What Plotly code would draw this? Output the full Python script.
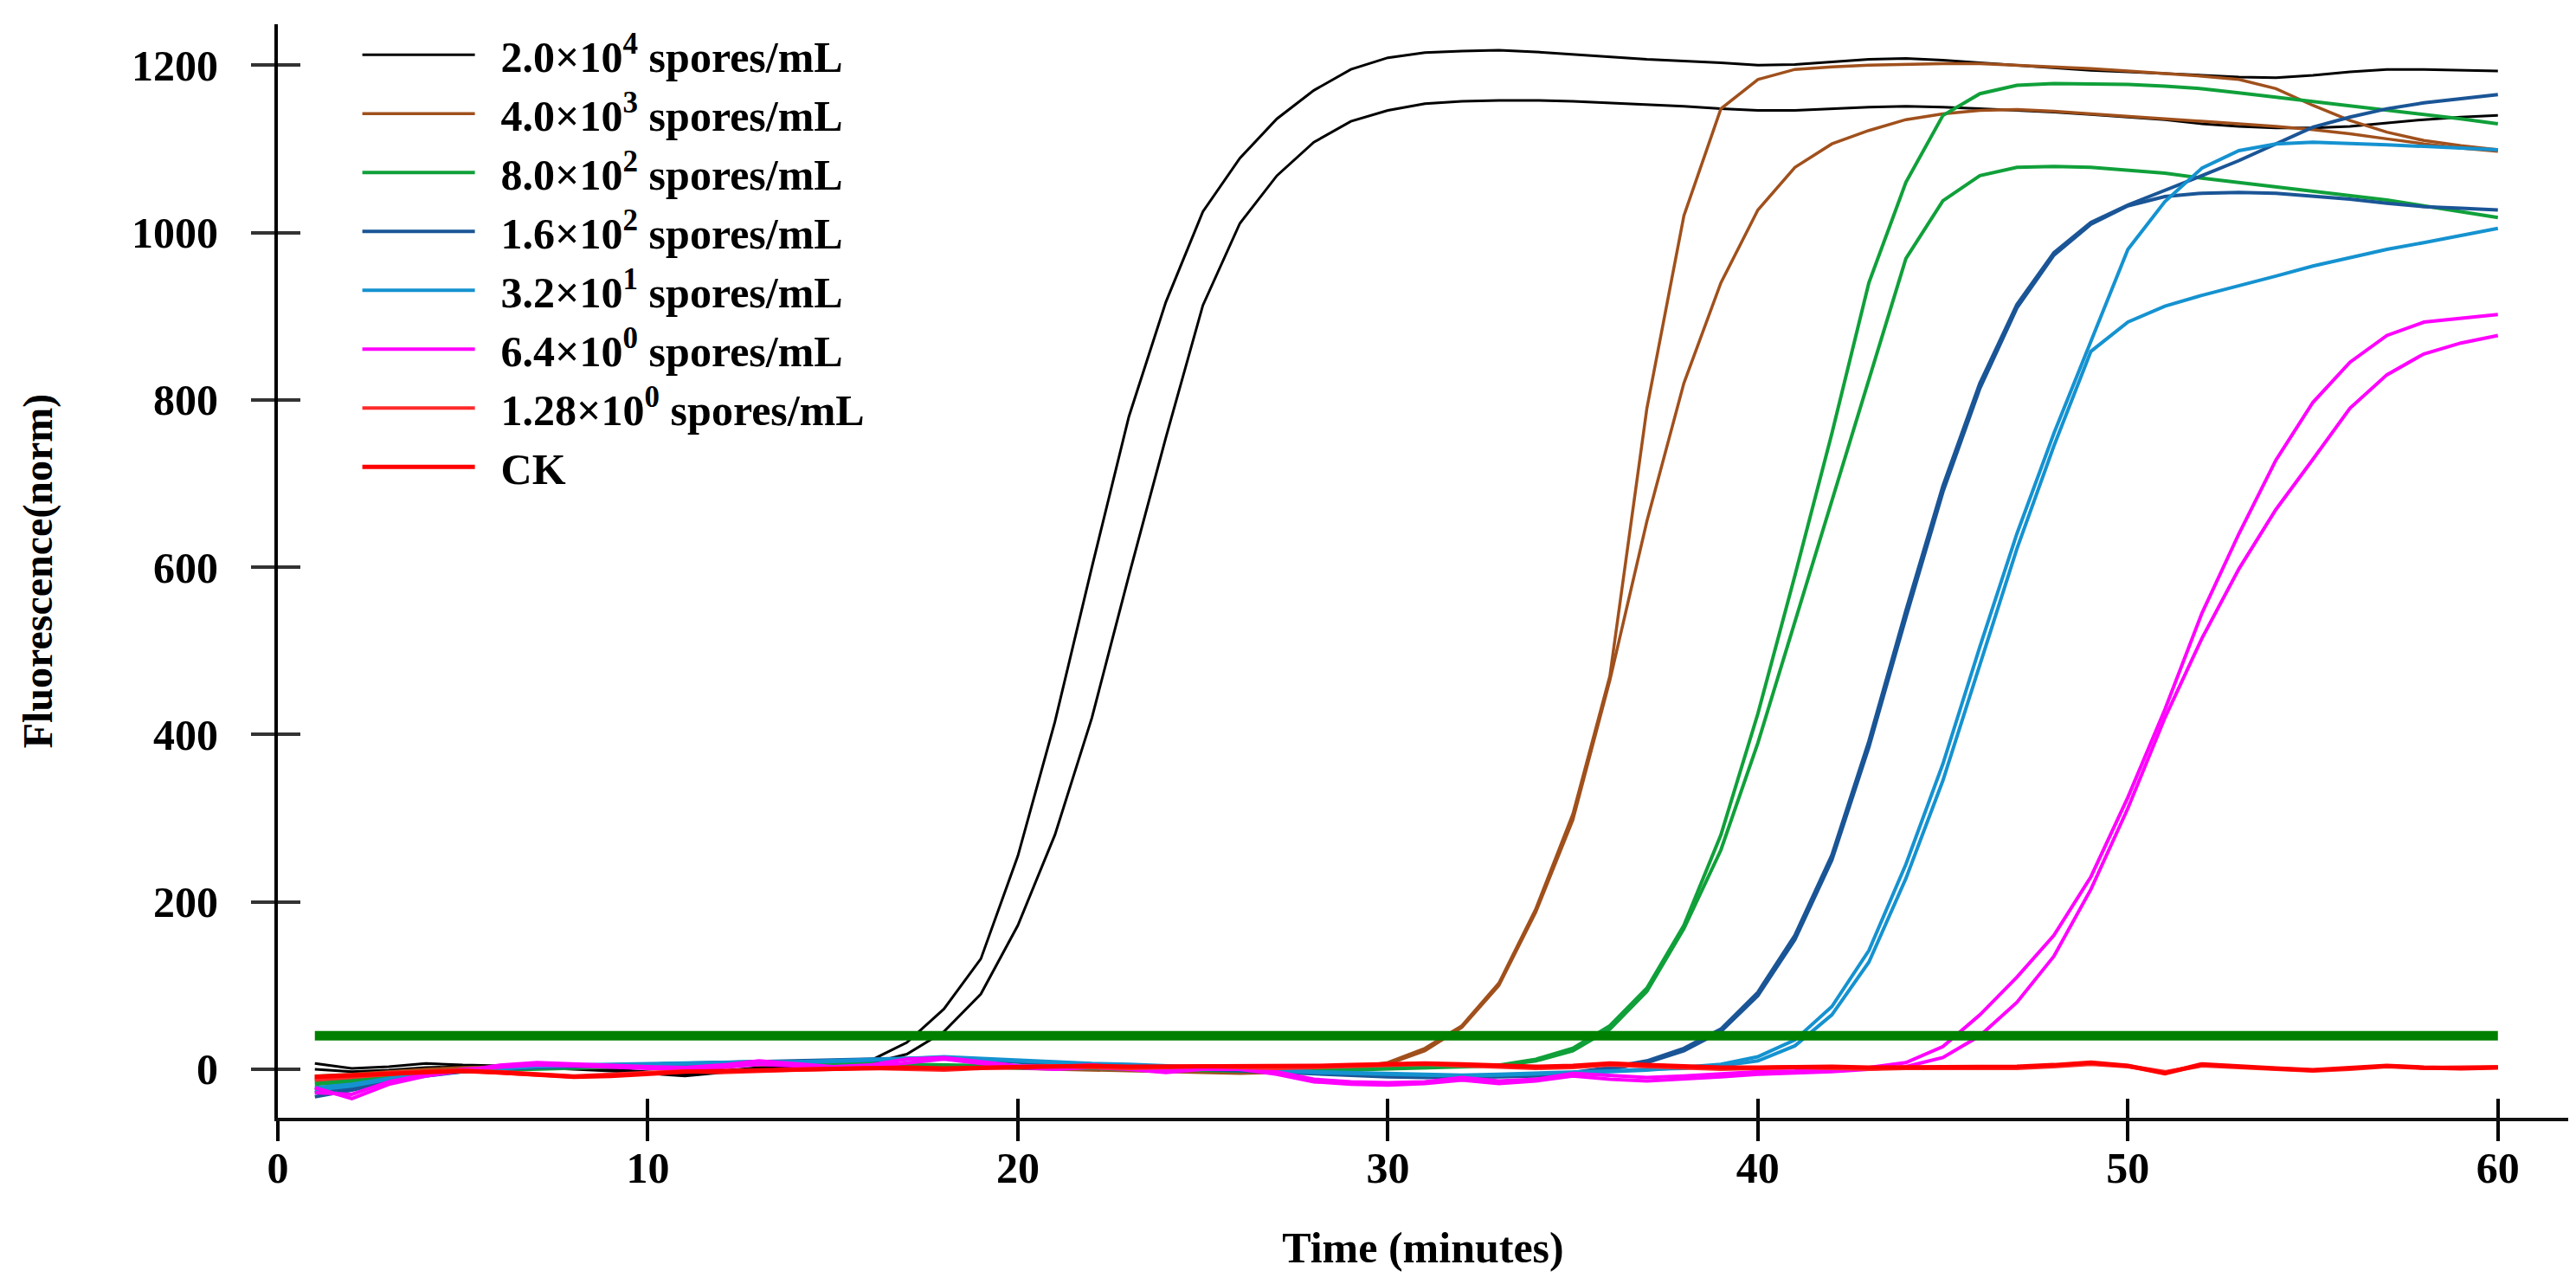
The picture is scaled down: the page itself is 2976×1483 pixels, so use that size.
import plotly.graph_objects as go

# time in minutes, one reading per minute
time = list(range(1, 61))

conc_2e4_a = [7, 1, 3, 7, 5, 4, 3, 2, 0, -3,
              -6, -2, 2, 4, 6, 10, 32, 72, 132, 255,
              415, 600, 780, 917, 1025, 1089, 1136, 1170, 1195, 1209,
              1215, 1217, 1218, 1216, 1213, 1210, 1207, 1205, 1203, 1200,
              1201, 1204, 1207, 1208, 1206, 1203, 1200, 1197, 1194, 1192,
              1190, 1188, 1186, 1185, 1188, 1192, 1195, 1195, 1194, 1193]
conc_2e4_b = [0, -3, -1, 2, 3, 3, 2, 0, -2, -5,
              -8, -4, 0, 3, 5, 7, 18, 45, 90, 172,
              280, 420, 590, 755, 913, 1011, 1068, 1108, 1133, 1146,
              1154, 1157, 1158, 1158, 1157, 1155, 1153, 1151, 1148, 1146,
              1146, 1148, 1150, 1151, 1150, 1148, 1146, 1144, 1141, 1138,
              1135, 1130, 1127, 1125, 1125, 1127, 1131, 1135, 1138, 1140]

conc_4e3_a = [-8, -6, -3, 0, 2, 3, 3, 4, 4, 5,
              4, 5, 6, 6, 7, 6, 5, 4, 3, 2,
              2, 1, 0, -2, -3, -4, -3, -1, 2, 8,
              25, 52, 103, 192, 305, 470, 790, 1020, 1148, 1183,
              1195, 1198, 1200, 1201, 1202, 1202, 1200, 1198, 1196, 1193,
              1190, 1187, 1183, 1172, 1152, 1134, 1120, 1110, 1104, 1099]
conc_4e3_b = [-12, -9, -5, -2, 0, 2, 2, 3, 3, 4,
              3, 4, 5, 5, 6, 5, 4, 3, 2, 1,
              0, -1, -2, -3, -4, -5, -4, -2, 1, 6,
              22, 50, 100, 188, 298, 465, 655, 820, 940, 1027,
              1078, 1106, 1122, 1135, 1142, 1146, 1147, 1145, 1142, 1139,
              1136, 1133, 1130, 1127, 1123, 1118, 1112, 1106, 1101, 1097]

conc_8e2_a = [-15, -12, -8, -4, -1, 1, 2, 3, 5, 6,
              7, 8, 9, 8, 8, 7, 6, 5, 4, 4,
              3, 3, 2, 1, 0, -1, -1, 0, 1, 2,
              3, 3, 5, 12, 25, 52, 97, 172, 280, 425,
              590, 760, 940, 1060, 1140, 1166, 1176, 1178, 1178, 1177,
              1175, 1172, 1167, 1162, 1157, 1152, 1147, 1141, 1136, 1130]
conc_8e2_b = [-18, -15, -10, -6, -3, -1, 0, 1, 3, 4,
              5, 6, 7, 6, 6, 5, 4, 3, 2, 2,
              1, 1, 0, -1, -2, -3, -3, -2, -1, 0,
              1, 2, 4, 10, 22, 48, 93, 168, 262, 390,
              535, 680, 825, 969, 1038, 1068, 1078, 1079, 1078, 1075,
              1071, 1065, 1060, 1055, 1050, 1045, 1039, 1032, 1025, 1018]

conc_1_6e2_a = [-33, -25, -15, -8, -3, 0, 2, 3, 4, 5,
                6, 7, 8, 9, 10, 11, 12, 13, 11, 8,
                6, 5, 4, 2, 0, -2, -4, -6, -8, -9,
                -10, -10, -9, -8, -5, 0, 8, 22, 45, 88,
                155, 250, 385, 540, 690, 814, 910, 973, 1010, 1032,
                1043, 1047, 1048, 1047, 1044, 1040, 1035, 1031, 1029, 1027]
conc_1_6e2_b = [-28, -22, -13, -7, -2, 1, 3, 4, 5, 6,
                7, 8, 9, 10, 11, 12, 13, 14, 12, 9,
                7, 6, 5, 3, 1, -1, -3, -5, -7, -8,
                -9, -9, -8, -7, -4, 2, 10, 25, 48, 92,
                160, 256, 392, 548, 697, 820, 914, 976, 1012, 1033,
                1050, 1068, 1086, 1106, 1126, 1138, 1148, 1155, 1160, 1165]

conc_3_2e1_a = [-25, -20, -12, -6, -2, 1, 3, 4, 5, 6,
                6, 7, 8, 8, 9, 10, 12, 14, 12, 9,
                7, 6, 5, 3, 1, 0, -2, -4, -5, -6,
                -7, -8, -7, -6, -5, -3, -1, 2, 6, 15,
                35, 75, 142, 245, 365, 505, 640, 760, 870, 980,
                1037, 1077, 1098, 1106, 1108, 1107, 1105, 1103, 1101, 1099]
conc_3_2e1_b = [-22, -18, -11, -5, -1, 2, 4, 5, 6, 7,
                7, 8, 9, 9, 10, 11, 13, 15, 13, 10,
                8, 7, 6, 4, 2, 1, -1, -3, -4, -5,
                -6, -7, -6, -5, -4, -2, 0, 1, 4, 10,
                28, 65, 128, 228, 345, 485, 622, 745, 858, 893,
                912, 925, 936, 948, 960, 970, 980, 988, 996, 1005]

conc_6_4e0_a = [-22, -35, -18, -8, -2, 5, 8, 6, 4, 3,
                2, 5, 10, 6, 3, 5, 12, 14, 9, 4,
                3, 5, 2, -2, 2, 3, -3, -12, -15, -16,
                -15, -10, -14, -12, -5, -8, -10, -8, -5, -3,
                -2, 0, 2, 8, 27, 65, 110, 160, 230, 325,
                430, 545, 640, 728, 797, 845, 877, 893, 898, 902]
conc_6_4e0_b = [-28, -30, -15, -6, 0, 3, 5, 4, 2, 1,
                0, 2, 6, 4, 2, 3, 8, 12, 7, 2,
                0, 2, 0, -4, 0, 0, -6, -15, -18, -19,
                -17, -13, -17, -14, -8, -12, -14, -12, -9, -6,
                -5, -3, 0, 3, 14, 40, 80, 135, 215, 312,
                420, 515, 598, 669, 729, 790, 830, 855, 868, 877]

conc_1_28e0_a = [-10, -8, -4, -2, -1, -3, -6, -8, -6, -4,
                 -2, -3, -1, 0, 1, 2, 1, 0, 2, 3,
                 4, 3, 2, 3, 4, 3, 2, 3, 4, 5,
                 7, 5, 3, 2, 3, 6, 4, 2, 1, 2,
                 3, 2, 1, 2, 2, 1, 2, 4, 7, 4,
                 -3, 5, 3, 0, -1, 1, 4, 2, 2, 3]
conc_1_28e0_b = [-13, -10, -6, -3, -2, -4, -7, -9, -7, -5,
                 -3, -4, -2, -1, 0, 1, 0, -1, 1, 2,
                 3, 2, 1, 2, 3, 2, 1, 2, 3, 4,
                 6, 4, 2, 1, 2, 5, 3, 1, 0, 1,
                 2, 1, 0, 1, 1, 0, 1, 3, 6, 3,
                 -4, 4, 2, -1, -2, 0, 3, 1, 1, 2]

ck = [-9, -7, -5, -3, -2, -4, -7, -9, -8, -5,
      -3, -2, -1, 0, 1, 1, 2, 1, 2, 3,
      3, 4, 3, 3, 4, 4, 3, 4, 5, 6,
      7, 6, 4, 3, 4, 7, 5, 3, 2, 2,
      3, 3, 2, 2, 2, 2, 3, 5, 8, 4,
      -5, 6, 3, 1, -1, 1, 4, 2, 1, 2]

threshold_x = [1, 60]
threshold_y = [40, 40]

x_ticks = [0, 10, 20, 30, 40, 50, 60]
y_ticks = [0, 200, 400, 600, 800, 1000, 1200]

series = [
    ("2.0×10<sup>4</sup> spores/mL", "#000000", 3, [conc_2e4_a, conc_2e4_b]),
    ("4.0×10<sup>3</sup> spores/mL", "#A0501C", 3.5, [conc_4e3_a, conc_4e3_b]),
    ("8.0×10<sup>2</sup> spores/mL", "#10A03A", 4, [conc_8e2_a, conc_8e2_b]),
    ("1.6×10<sup>2</sup> spores/mL", "#1A5596", 4, [conc_1_6e2_a, conc_1_6e2_b]),
    ("3.2×10<sup>1</sup> spores/mL", "#1592D0", 4, [conc_3_2e1_a, conc_3_2e1_b]),
    ("6.4×10<sup>0</sup> spores/mL", "#FF00FF", 4, [conc_6_4e0_a, conc_6_4e0_b]),
    ("1.28×10<sup>0</sup> spores/mL", "#FF2A2A", 4, [conc_1_28e0_a, conc_1_28e0_b]),
    ("CK", "#FF0000", 5, [ck]),
]

font_family = "Liberation Serif, Times New Roman, serif"

fig = go.Figure()

for name, color, width, reps in series:
    for i, vals in enumerate(reps):
        fig.add_trace(go.Scatter(
            x=time,
            y=vals,
            mode='lines',
            line=dict(color=color, width=width),
            name='\u2002' + name,
            legendgroup=name,
            showlegend=(i == 0)))

# threshold line sits on the overlay axes, so it is drawn on top
fig.add_trace(go.Scatter(
    x=threshold_x,
    y=threshold_y,
    xaxis='x2',
    yaxis='y2',
    mode='lines',
    line=dict(color='#008000', width=11),
    showlegend=False,
    hoverinfo='skip'))

x_range = [0, 61.9]
y_range = [-58, 1249]
tick_font = dict(family=font_family, size=50, color='black', weight='bold')

fig.update_layout(
    width=2976,
    height=1483,
    margin=dict(l=313, r=17, t=20, b=200),
    paper_bgcolor='white',
    plot_bgcolor='white',
    font=dict(family=font_family, color='black'),
    legend=dict(
        x=0.035, y=1.003,
        xanchor='left', yanchor='top',
        bgcolor='rgba(0,0,0,0)',
        itemwidth=130,
        font=dict(family=font_family, size=50, color='black', weight='bold'),
        tracegroupgap=0),
    xaxis=dict(
        range=x_range,
        tickvals=x_ticks,
        ticks='outside', ticklen=23, tickwidth=4, tickcolor='black',
        ticklabelstandoff=-12,
        showline=True, linecolor='#111111', linewidth=4,
        showgrid=False, zeroline=False,
        tickfont=tick_font,
        title=dict(text='Time (minutes)', standoff=48,
                   font=dict(family=font_family, size=50, color='black', weight='bold'))),
    yaxis=dict(
        range=y_range,
        tickvals=y_ticks,
        ticks='outside', ticklen=27, tickwidth=4, tickcolor='#333333',
        ticklabelstandoff=28,
        showline=True, linecolor='black', linewidth=4,
        showgrid=False, zeroline=False,
        tickfont=tick_font,
        title=dict(text='Fluorescence(norm)', standoff=77,
                   font=dict(family=font_family, size=48, color='black', weight='bold'))),
    # overlay axes give the inner half of the crossing ticks
    xaxis2=dict(
        range=x_range, overlaying='x', anchor='y2',
        tickvals=x_ticks,
        ticks='inside', ticklen=22, tickwidth=4, tickcolor='black',
        showticklabels=False, showgrid=False, zeroline=False, showline=False),
    yaxis2=dict(
        range=y_range, overlaying='y', anchor='x2',
        tickvals=y_ticks,
        ticks='inside', ticklen=26, tickwidth=4, tickcolor='#333333',
        showticklabels=False, showgrid=False, zeroline=False, showline=False),
)

fig.write_html("out.html")
